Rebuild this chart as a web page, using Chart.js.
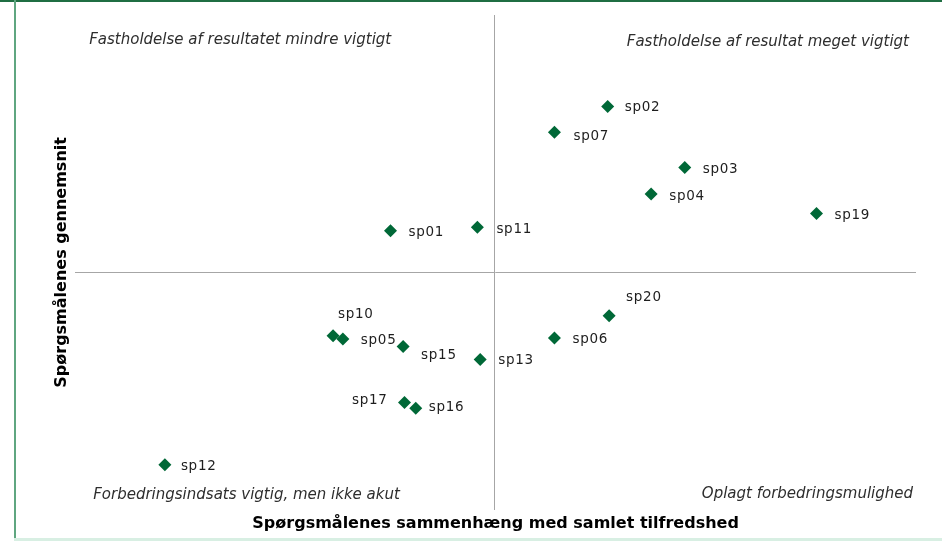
<!DOCTYPE html>
<html>
<head>
<meta charset="utf-8">
<script src="https://cdn.jsdelivr.net/npm/chart.js@4/dist/chart.umd.min.js"></script>
<style>
  html, body { margin: 0; padding: 0; background: #ffffff; }
  #wrap { position: relative; width: 942px; height: 541px; overflow: hidden; }
  .bd { position: absolute; }
  canvas { position: absolute; left: 0; top: 0; }
</style>
</head>
<body>
<div id="wrap">
  <div class="bd" style="left:0;top:0;width:942px;height:2px;background:#1f6e43"></div>
  <div class="bd" style="left:14px;top:0;width:2px;height:541px;background:#5fa680"></div>
  <div class="bd" style="left:14px;top:538px;width:928px;height:3px;background:#d8efe3"></div>
  <canvas id="c" width="942" height="541"></canvas>
</div>
<script>
// ---- data ----
const questions = ['sp01','sp02','sp03','sp04','sp05','sp06','sp07','sp10','sp11','sp12','sp13','sp15','sp16','sp17','sp19','sp20'];
const correlation = [0.425,0.580,0.635,0.611,0.391,0.542,0.542,0.384,0.487,0.264,0.489,0.434,0.443,0.435,0.729,0.581];
const average     = [4.064,4.315,4.192,4.138,3.845,3.847,4.263,3.852,4.071,3.591,3.804,3.830,3.705,3.717,4.099,3.892];
const crossX = 0.499;
const crossY = 3.980;
const xTitle = 'Spørgsmålenes sammenhæng med samlet tilfredshed';
const yTitle = 'Spørgsmålenes gennemsnit';
const quadrantTexts = ['Fastholdelse af resultatet mindre vigtigt','Fastholdelse af resultat meget vigtigt','Forbedringsindsats vigtig, men ikke akut','Oplagt forbedringsmulighed'];

// ---- label placement (style only) ----
const labelOffset = {
  sp01:[18,2,'left'], sp02:[17,1,'left'], sp03:[18,2,'left'], sp04:[18,2,'left'],
  sp05:[18,1,'left'], sp06:[18,1,'left'], sp07:[19,4,'left'], sp10:[5,-21,'left'],
  sp11:[19,2,'left'], sp12:[16,2,'left'], sp13:[18,1,'left'], sp15:[18,9,'left'],
  sp16:[13,-1,'left'], sp17:[-17,-2,'right'], sp19:[18,2,'left'], sp20:[17,-18,'left']
};

const points = questions.map((q,i)=>({x:correlation[i], y:average[i]}));

const labelPlugin = {
  id: 'labelsAndQuadrants',
  afterDatasetsDraw(chart) {
    const ctx = chart.ctx;
    const meta = chart.getDatasetMeta(0);
    ctx.save();
    ctx.fillStyle = '#1e1e1e';
    ctx.font = '13.5px "DejaVu Sans", Verdana, sans-serif';
    try { ctx.letterSpacing = '0.7px'; } catch(e) {}
    ctx.textBaseline = 'middle';
    meta.data.forEach((el, i) => {
      const q = questions[i];
      const o = labelOffset[q];
      ctx.textAlign = o[2];
      ctx.fillText(q, el.x + o[0], el.y + o[1]);
    });
    try { ctx.letterSpacing = '0px'; } catch(e) {}
    const a = chart.chartArea;
    ctx.fillStyle = '#2e2e2e';
    ctx.font = 'italic 15px "DejaVu Sans", Verdana, sans-serif';
    ctx.textAlign = 'left';
    ctx.fillText(quadrantTexts[0], a.left + 14, a.top + 25);
    ctx.textAlign = 'right';
    ctx.fillText(quadrantTexts[1], a.right - 7, a.top + 27);
    ctx.textAlign = 'left';
    ctx.fillText(quadrantTexts[2], a.left + 18, a.bottom - 15);
    ctx.textAlign = 'right';
    ctx.fillText(quadrantTexts[3], a.right - 3, a.bottom - 16);
    ctx.restore();
  }
};

new Chart(document.getElementById('c'), {
  type: 'scatter',
  data: {
    datasets: [{
      data: points,
      pointStyle: 'rectRot',
      pointRadius: 6.5,
      pointHoverRadius: 6.5,
      backgroundColor: '#006837',
      borderColor: '#006837',
      borderWidth: 0
    }]
  },
  options: {
    responsive: false,
    animation: false,
    devicePixelRatio: 1,
    layout: { padding: { left: 48, right: 26, top: 15, bottom: 4 } },
    plugins: { legend: { display: false }, tooltip: { enabled: false } },
    scales: {
      x: {
        type: 'linear', min: 0.2, max: 0.8,
        afterBuildTicks: s => { s.ticks = [{ value: crossX }]; },
        ticks: { display: false },
        grid: { color: '#a6a6a6', lineWidth: 1, drawTicks: false },
        border: { display: false },
        title: { display: true, text: xTitle, color: '#000000',
                 font: { family: '"DejaVu Sans", Verdana, sans-serif', weight: 'bold', size: 16 },
                 padding: { top: 4, bottom: 4 } }
      },
      y: {
        type: 'linear', min: 3.5, max: 4.5,
        afterBuildTicks: s => { s.ticks = [{ value: crossY }]; },
        ticks: { display: false },
        grid: { color: '#a6a6a6', lineWidth: 1, drawTicks: false },
        border: { display: false },
        title: { display: true, text: yTitle, color: '#000000',
                 font: { family: '"DejaVu Sans", Verdana, sans-serif', weight: 'bold', size: 16 },
                 padding: { top: 4, bottom: 4 } }
      }
    }
  },
  plugins: [labelPlugin]
});
</script>
</body>
</html>
